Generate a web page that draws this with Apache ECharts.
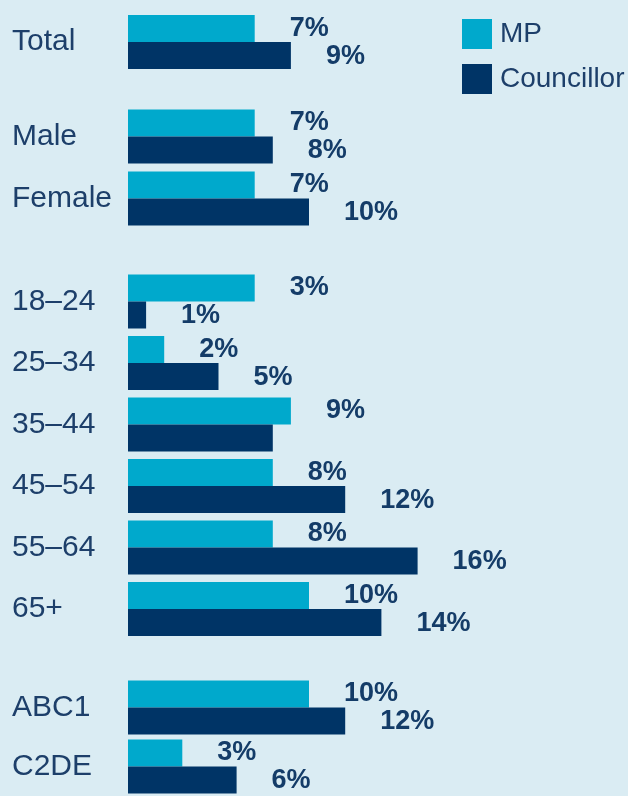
<!DOCTYPE html>
<html>
<head>
<meta charset="utf-8">
<script src="https://cdn.jsdelivr.net/npm/echarts@6/dist/echarts.min.js"></script>
<style>
  html, body { margin: 0; padding: 0; background: #daecf3; }
  #chart { width: 628px; height: 796px; }
</style>
</head>
<body>
<div id="chart"></div>
<script>
// groups of categories, each drawn in its own grid
const groups = [
    ['Total'],
    ['Male', 'Female'],
    ['18\u201324', '25\u201334', '35\u201344', '45\u201354', '55\u201364', '65+'],
    ['ABC1', 'C2DE']
];
// bar lengths (%) as drawn
const mpValues = [[7], [7, 7], [7, 2, 9, 8, 8, 10], [10, 3]];
const councillorValues = [[9], [8, 10], [1, 5, 8, 12, 16, 14], [12, 6]];
// labels as printed next to the bars
const mpLabels = [['7%'], ['7%', '7%'], ['3%', '2%', '9%', '8%', '8%', '10%'], ['10%', '3%']];
const councillorLabels = [['9%'], ['8%', '10%'], ['1%', '5%', '', '12%', '16%', '14%'], ['12%', '6%']];

const seriesNames = ['MP', 'Councillor'];
const colors = ['#00a9cc', '#003466'];

const chartDom = document.getElementById('chart');
const myChart = echarts.init(chartDom, null, { renderer: 'canvas' });

// grid positions (top, height) for each group
const gridBoxes = [[11, 62], [105.5, 124], [270.75, 369], [678, 122]];

const grids = gridBoxes.map(([top, height]) => ({ left: 128, width: 362, top: top, height: height }));
const xAxes = groups.map((_, i) => ({
    type: 'value', gridIndex: i, min: 0, max: 20,
    show: false
}));
const yAxes = groups.map((cats, i) => ({
    type: 'category', gridIndex: i, data: cats, inverse: true,
    axisLine: { show: false }, axisTick: { show: false },
    axisLabel: {
        align: 'left', margin: 116,
        color: '#1d3f6a', fontSize: 30, fontFamily: 'Liberation Sans'
    }
}));

const labelStyle = {
    show: true, position: 'right', distance: 35,
    color: '#143c68', fontSize: 27, fontWeight: 'bold', fontFamily: 'Liberation Sans'
};

const series = [];
groups.forEach((cats, i) => {
    series.push({
        name: 'MP', type: 'bar', xAxisIndex: i, yAxisIndex: i,
        barWidth: 27, barGap: '0%',
        itemStyle: { color: colors[0] },
        data: mpValues[i].map((v, j) => ({ value: v, label: { formatter: mpLabels[i][j] } })),
        label: labelStyle,
        silent: true
    });
    series.push({
        name: 'Councillor', type: 'bar', xAxisIndex: i, yAxisIndex: i,
        barWidth: 27, barGap: '0%',
        itemStyle: { color: colors[1] },
        data: councillorValues[i].map((v, j) => ({ value: v, label: { formatter: councillorLabels[i][j], offset: [0, 1] } })),
        label: labelStyle,
        silent: true
    });
});

const option = {
    backgroundColor: '#daecf3',
    animation: false,
    legend: {
        data: seriesNames, orient: 'vertical', left: 462, top: 19, padding: 0,
        itemWidth: 30, itemHeight: 30, itemGap: 15,
        icon: 'rect',
        textStyle: { color: '#1d3f6a', fontSize: 28, fontFamily: 'Liberation Sans', padding: [0, 0, 0, 3] }
    },
    grid: grids,
    xAxis: xAxes,
    yAxis: yAxes,
    series: series
};
myChart.setOption(option);
</script>
</body>
</html>
